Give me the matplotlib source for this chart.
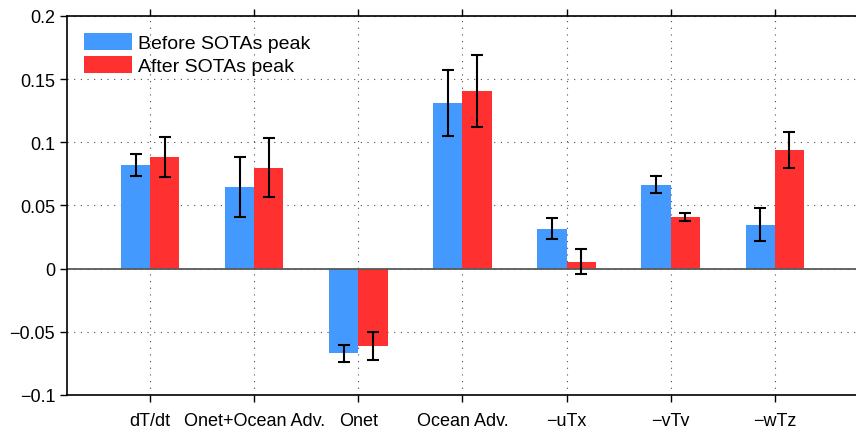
import matplotlib
matplotlib.use("Agg")
import matplotlib.pyplot as plt
import numpy as np

plt.rcParams['font.family'] = ['Liberation Sans', 'DejaVu Sans']

# Datos
categorias = ["dT/dt", "Qnet+Ocean Adv.", "Qnet", "Ocean Adv.", "\u2212uTx", "\u2212vTy", "\u2212wTz"]
antes = [0.082, 0.0645, -0.067, 0.131, 0.0317, 0.0665, 0.0348]
antes_err = [0.0085, 0.024, 0.0067, 0.026, 0.0085, 0.0068, 0.013]
despues = [0.0885, 0.080, -0.0615, 0.141, 0.0055, 0.0412, 0.094]
despues_err = [0.016, 0.0234, 0.011, 0.0285, 0.0101, 0.0031, 0.014]

x = np.arange(1, len(categorias) + 1)
ancho = 0.28

fig = plt.figure(figsize=(8.56, 4.27), dpi=100)
ax = fig.add_axes([0.0783, 0.0726, 0.924, 0.8876])

ax.bar(x - ancho / 2, antes, ancho, color='#4499ff', label='Before SOTAs peak', zorder=2)
ax.bar(x + ancho / 2, despues, ancho, color='#ff3030', label='After SOTAs peak', zorder=2)
ax.errorbar(x - ancho / 2, antes, yerr=antes_err, fmt='none', ecolor='black',
            elinewidth=1.5, capsize=4.5, capthick=1.5, zorder=3)
ax.errorbar(x + ancho / 2, despues, yerr=despues_err, fmt='none', ecolor='black',
            elinewidth=1.5, capsize=4.5, capthick=1.5, zorder=3)

ax.axhline(0, color='0.35', lw=1.3, zorder=2.5)

ax.set_xlim(0.2, 7.8)
ax.set_ylim(-0.1, 0.2)
ax.set_xticks(x)
ax.set_xticklabels(categorias)
yt = [-0.1, -0.05, 0, 0.05, 0.1, 0.15, 0.2]
ax.set_yticks(yt)
ax.set_yticklabels([("%g" % v).replace('-', '\u2212') for v in yt])
ax.tick_params(axis='both', direction='out', labelsize=13, length=5, width=1)
ax.tick_params(axis='x', top=True, pad=7)

ax.grid(True, linestyle=(0, (1, 5)), color='0.3', linewidth=0.8, zorder=0)
ax.set_axisbelow(True)
ax.spines['right'].set_visible(False)
for s in ['left', 'bottom', 'top']:
    ax.spines[s].set_linewidth(1.2)

ax.legend(loc='upper left', frameon=False, fontsize=14, handlelength=2.5,
          handleheight=0.95, handletextpad=0.3, labelspacing=0.2,
          borderaxespad=0.0, bbox_to_anchor=(0.011, 0.975))

plt.savefig("out.png", dpi=100)
